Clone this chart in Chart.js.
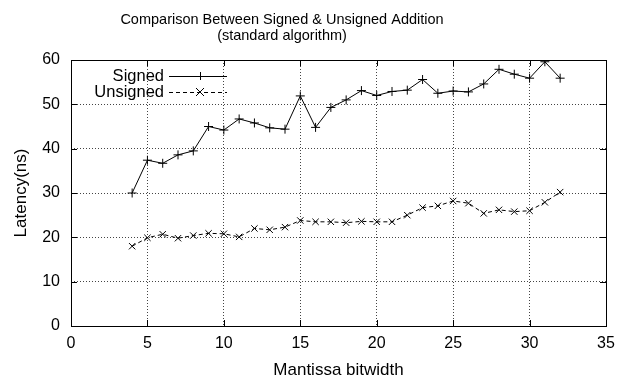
<!DOCTYPE html>
<html>
<head>
<meta charset="utf-8">
<script src="https://cdn.jsdelivr.net/npm/chart.js@4/dist/chart.umd.min.js"></script>
<style>
  html, body { margin: 0; padding: 0; background: #fff; }
  #wrap { width: 626px; height: 381px; }
</style>
</head>
<body>
<div id="wrap"><canvas id="latencyChart" width="626" height="381"></canvas></div>
<script>
// data
const bitwidths = [4, 5, 6, 7, 8, 9, 10, 11, 12, 13, 14, 15, 16, 17, 18, 19, 20, 21, 22, 23, 24, 25, 26, 27, 28, 29, 30, 31, 32];
const signedLatency = [30.0, 37.4, 36.7, 38.6, 39.5, 45.0, 44.2, 46.7, 45.8, 44.7, 44.4, 51.9, 44.8, 49.3, 51.0, 53.1, 52.0, 52.9, 53.2, 55.6, 52.5, 53.0, 52.8, 54.6, 57.9, 56.8, 55.9, 59.6, 55.9];
const unsignedLatency = [18.0, 19.9, 20.7, 19.8, 20.4, 20.9, 20.8, 20.1, 22.0, 21.7, 22.3, 23.8, 23.5, 23.5, 23.3, 23.6, 23.5, 23.5, 25.0, 26.7, 27.1, 28.2, 27.7, 25.4, 26.2, 25.8, 26.0, 27.9, 30.2];
const xTicks = [0, 5, 10, 15, 20, 25, 30, 35];
const yTicks = [0, 10, 20, 30, 40, 50, 60];
const titleLines = ['Comparison Between Signed & Unsigned Addition', '(standard algorithm)'];

const fontFamily = "'Liberation Sans', Arial, Helvetica, sans-serif";
Chart.defaults.font.family = fontFamily;
Chart.defaults.font.size = 16;
Chart.defaults.color = '#000';

const toPoints = ys => bitwidths.map((x, i) => ({ x: x, y: ys[i] }));

// gnuplot style frame, inward ticks, title and legend
const gnuplotDecor = {
    id: 'gnuplotDecor',
    afterDraw(chart) {
        const { ctx, chartArea: a, scales } = chart;
        ctx.save();
        ctx.strokeStyle = '#000';
        ctx.lineWidth = 1;
        ctx.setLineDash([]);
        ctx.strokeRect(Math.round(a.left) + 0.5, Math.round(a.top) + 0.5,
            Math.round(a.right - a.left), Math.round(a.bottom - a.top));
        const tl = 6;
        ctx.beginPath();
        xTicks.forEach(v => {
            const px = Math.round(scales.x.getPixelForValue(v)) + 0.5;
            ctx.moveTo(px, a.bottom); ctx.lineTo(px, a.bottom - tl);
            ctx.moveTo(px, a.top); ctx.lineTo(px, a.top + tl);
        });
        yTicks.forEach(v => {
            const py = Math.round(scales.y.getPixelForValue(v)) + 0.5;
            ctx.moveTo(a.left, py); ctx.lineTo(a.left + tl, py);
            ctx.moveTo(a.right, py); ctx.lineTo(a.right - tl, py);
        });
        ctx.stroke();

        // title
        ctx.fillStyle = '#000';
        ctx.font = '14.5px ' + fontFamily;
        ctx.textAlign = 'center';
        ctx.textBaseline = 'middle';
        ctx.fillText(titleLines[0], 282, 19.5);
        ctx.fillText(titleLines[1], 282, 35.5);

        // legend, text right-aligned with a line sample
        ctx.font = '16.5px ' + fontFamily;
        chart.data.datasets.forEach((ds, i) => {
            const y = 76 + i * 16;
            ctx.textAlign = 'right';
            ctx.fillText(ds.label, 164, y);
            ctx.beginPath();
            ctx.setLineDash(ds.borderDash || []);
            ctx.moveTo(169, y + 0.5); ctx.lineTo(227, y + 0.5);
            ctx.stroke();
            ctx.setLineDash([]);
            const cx = 200, r = 4;
            ctx.beginPath();
            if (ds.pointStyle === 'cross') {
                ctx.moveTo(cx - r, y + 0.5); ctx.lineTo(cx + r, y + 0.5);
                ctx.moveTo(cx + 0.5, y - r); ctx.lineTo(cx + 0.5, y + r);
            } else {
                ctx.moveTo(cx - r, y - r); ctx.lineTo(cx + r, y + r);
                ctx.moveTo(cx - r, y + r); ctx.lineTo(cx + r, y - r);
            }
            ctx.stroke();
        });
        ctx.restore();
    }
};

new Chart(document.getElementById('latencyChart'), {
    type: 'line',
    data: {
        datasets: [
            {
                label: 'Signed',
                data: toPoints(signedLatency),
                borderColor: '#000',
                backgroundColor: '#000',
                borderWidth: 1,
                pointStyle: 'cross',
                pointRadius: 4.5,
                pointBorderWidth: 1,
                pointBorderColor: '#000',
                fill: false,
                tension: 0
            },
            {
                label: 'Unsigned',
                data: toPoints(unsignedLatency),
                borderColor: '#000',
                backgroundColor: '#000',
                borderWidth: 1,
                borderDash: [4, 3],
                pointStyle: 'crossRot',
                pointRadius: 4.5,
                pointBorderWidth: 1,
                pointBorderColor: '#000',
                fill: false,
                tension: 0
            }
        ]
    },
    options: {
        responsive: false,
        animation: false,
        events: [],
        layout: { padding: { left: 0, right: 20, top: 60, bottom: 0 } },
        plugins: {
            legend: { display: false },
            title: { display: false },
            tooltip: { enabled: false }
        },
        scales: {
            x: {
                type: 'linear',
                min: 0,
                max: 35,
                afterFit: s => { s.height = 55; },
                afterBuildTicks: s => { s.ticks = xTicks.map(v => ({ value: v })); },
                ticks: { padding: 8, maxRotation: 0, font: { size: 16 } },
                grid: { color: '#444', drawTicks: false, lineWidth: 1 },
                border: { display: false, dash: [1, 2] },
                title: { display: true, text: 'Mantissa bitwidth', font: { size: 17 }, padding: { top: 0, bottom: 0 } }
            },
            y: {
                min: 0,
                max: 60,
                afterFit: s => { s.width = 71; },
                afterBuildTicks: s => { s.ticks = yTicks.map(v => ({ value: v })); },
                ticks: { padding: 11, font: { size: 16 } },
                grid: { color: '#444', drawTicks: false, lineWidth: 1 },
                border: { display: false, dash: [1, 2] },
                title: { display: true, text: 'Latency(ns)', font: { size: 17 }, padding: { top: 11, bottom: 0 } }
            }
        }
    },
    plugins: [gnuplotDecor]
});
</script>
</body>
</html>
